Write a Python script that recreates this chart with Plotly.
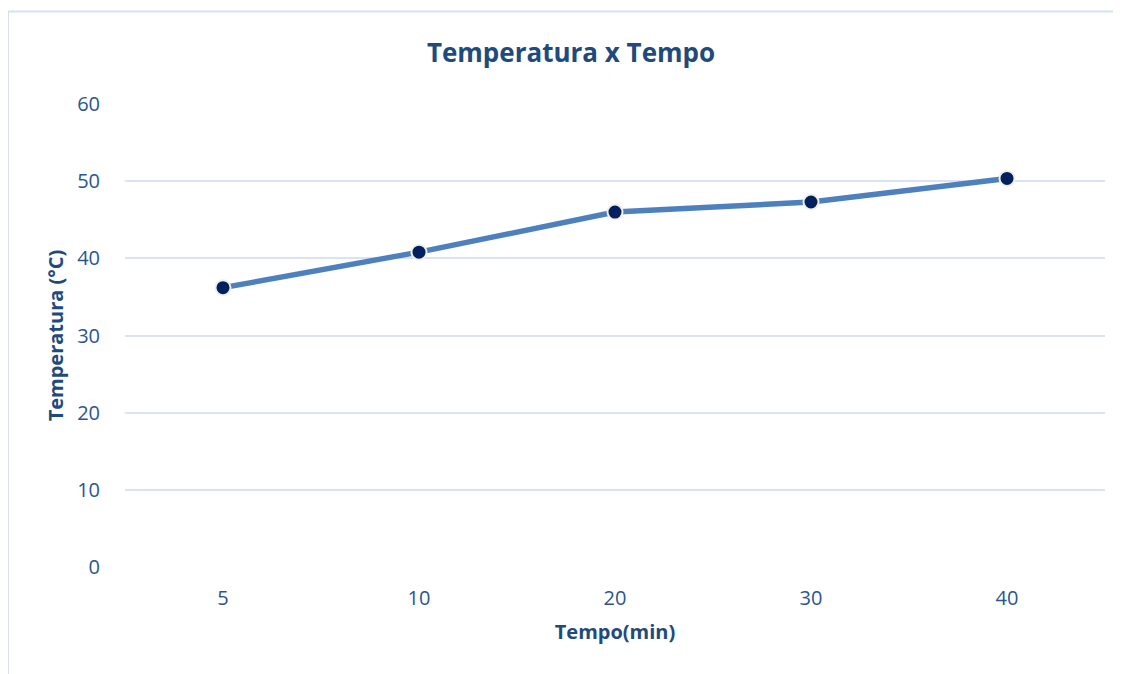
import plotly.graph_objects as go

categories = ["5", "10", "20", "30", "40"]
temperatura = [36.2, 40.8, 46.0, 47.3, 50.35]
y_ticks = [0, 10, 20, 30, 40, 50, 60]

# page has an 8px body margin; work in reference pixel coords then shift
OFF = 8
W, H = 1121 - OFF, 674 - OFF
L, T = 125 - OFF, 104 - OFF
pw, ph = 980, 463
R, B = W - L - pw, H - T - ph

def px_x(x):
    return (x - OFF - L) / pw

def px_y(y):
    return (T + ph - (y - OFF)) / ph

fig = go.Figure()
fig.add_trace(go.Scatter(
    x=categories, y=temperatura, mode="lines+markers",
    line=dict(color="#4E80BD", width=5.5),
    marker=dict(size=15, color="#002060", line=dict(color="#F2EFE4", width=2)),
    showlegend=False,
))

title_color = "#1F4A7D"
tick_color = "#2A5590"
grid_color = "#D9E3F3"
FONT = "Open Sans"

fig.update_layout(
    width=W, height=H,
    margin=dict(l=L, r=R, t=T, b=B),
    paper_bgcolor="white", plot_bgcolor="white",
    font=dict(family=FONT, color=tick_color),
    title=dict(text="<b>Temperatura x Tempo</b>", x=(571 - OFF) / W, xanchor="center",
               xref="container", y=1 - (53 - OFF) / H, yanchor="middle",
               font=dict(family=FONT, size=26, color=title_color)),
    xaxis=dict(
        type="category", range=[-0.5, len(categories) - 0.5],
        showgrid=False, zeroline=False, showline=False,
        ticks="outside", ticklen=13, tickcolor="rgba(0,0,0,0)",
        tickfont=dict(family=FONT, size=20, color=tick_color),
        title=dict(text="<b>Tempo(min)</b>", standoff=14,
                   font=dict(family=FONT, size=20, color=title_color)),
    ),
    yaxis=dict(
        range=[0, 60], tickvals=y_ticks, showgrid=True, gridcolor=grid_color,
        gridwidth=2, zeroline=False, showline=False,
        ticks="outside", ticklen=20, tickcolor="rgba(0,0,0,0)",
        tickfont=dict(family=FONT, size=20, color=tick_color),
        title=dict(text="<b>Temperatura (°C)</b>", standoff=8,
                   font=dict(family=FONT, size=20, color=title_color)),
    ),
    shapes=[dict(
        type="rect", xref="paper", yref="paper",
        x0=px_x(8), x1=px_x(1121 + 20), y0=px_y(674 + 20), y1=px_y(11.5),
        line=dict(color="#D6E2F3", width=2), fillcolor="rgba(0,0,0,0)", layer="below",
    )],
)

fig.write_html("out.html")
